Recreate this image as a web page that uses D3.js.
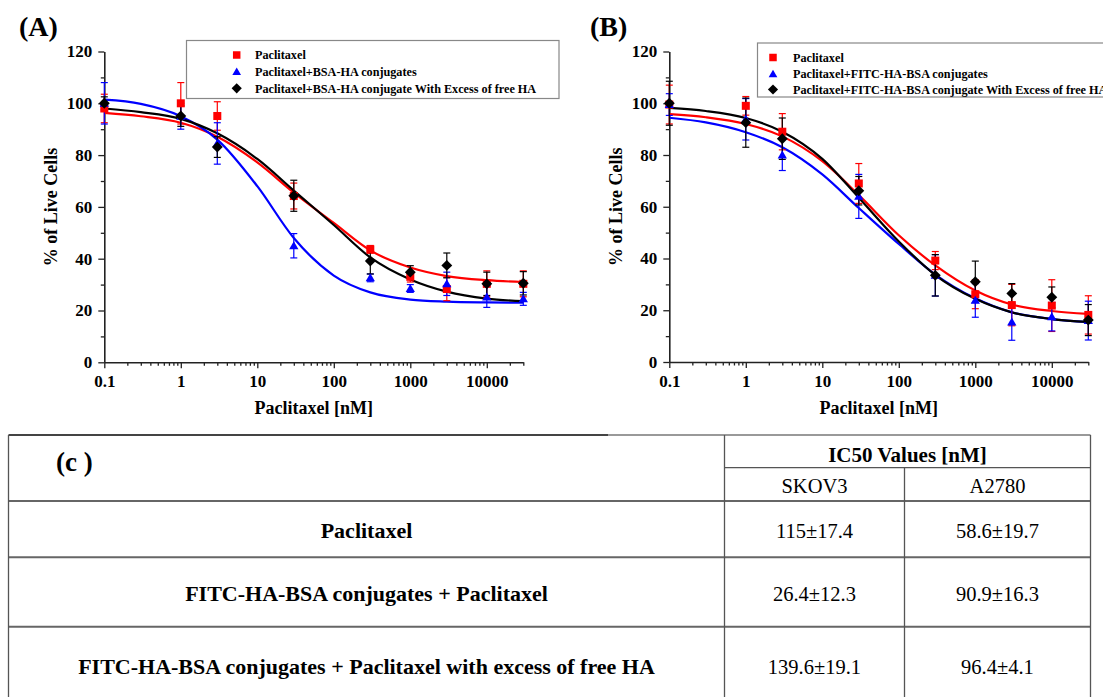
<!DOCTYPE html>
<html>
<head>
<meta charset="utf-8">
<script src="https://cdn.jsdelivr.net/npm/d3@7"></script>
<style>
  body { margin: 0; background: #fff; }
  svg { display: block; font-family: "Liberation Serif", "Times New Roman", serif; }
</style>
</head>
<body>
<svg id="fig" width="1103" height="697"></svg>
<script>
const doses = [0.1, 1, 3, 30, 300, 1000, 3000, 10000, 30000];
const fitDoses = [0.1, 0.3, 1, 3, 10, 30, 100, 300, 1000, 3000, 10000, 30000];
const xTickValues = [0.1, 1, 10, 100, 1000, 10000];
const yTickValues = [0, 20, 40, 60, 80, 100, 120];

// Panel A (% live cells)
const aPacli = [98, 100, 95.1, 64.2, 43.6, 33, 28.3, 30.3, 30.3];
const aPacliErr = [5.5, 8, 5.5, 5, 1.5, 2, 4.5, 5, 5];
const aPacliFit = [96.3, 95.0, 92.5, 87.1, 77.2, 65.5, 53.8, 43.2, 36.6, 33.3, 31.7, 31.0];
const aConj = [100, 95, 84.5, 45, 32.6, 28.5, 30.3, 25.2, 24.5];
const aConjErr = [8, 5, 8, 4.7, 1.5, 1.5, 4.5, 4, 2.5];
const aConjFit = [101.4, 99.8, 95.0, 86.0, 68.0, 48.0, 33.5, 27.0, 24.2, 23.4, 23.1, 23.0];
const aFree = [100, 95.1, 83.1, 64.3, 39.1, 34.8, 37.4, 30.3, 30.5];
const aFreeErr = [2.5, 4, 4, 6, 5, 2.5, 4.8, 4.5, 4.5];
const aFreeFit = [98.0, 96.6, 94.0, 88.4, 78.5, 66.3, 53.0, 40.5, 32.0, 27.3, 24.6, 23.6];
const aLegend = ["Paclitaxel", "Paclitaxel+BSA-HA conjugates",
  "Paclitaxel+BSA-HA conjugate With Excess of free HA"];

// Panel B
const bPacli = [99.5, 99, 89, 69, 39.2, 26.2, 22, 21.8, 18.2];
const bPacliErr = [7.5, 3.6, 7, 7.7, 3.5, 5.6, 8, 10, 7.4];
const bPacliFit = [95.8, 94.6, 92.0, 87.2, 77.6, 64.5, 49.0, 37.3, 27.6, 22.2, 19.7, 18.6];
const bConj = [99.5, 93.8, 80, 64, 33.5, 23.8, 15.4, 17.5, 16];
const bConjErr = [4.2, 8, 6, 8.5, 8, 6.5, 7, 5.5, 7.5];
const bConjFit = [94.4, 92.6, 88.8, 83.0, 72.5, 59.5, 45.6, 33.8, 24.6, 19.2, 16.6, 15.4];
const bFree = [100, 92.5, 86.3, 66.2, 33.5, 31, 26.5, 25, 16.2];
const bFreeErr = [8.5, 9.5, 8, 5.5, 8, 8, 3.8, 4, 6];
const bFreeFit = [98.2, 97.0, 94.3, 89.0, 78.5, 63.5, 46.6, 33.6, 24.4, 19.2, 16.6, 15.5];
const bLegend = ["Paclitaxel", "Paclitaxel+FITC-HA-BSA conjugates",
  "Paclitaxel+FITC-HA-BSA conjugate With Excess of free HA"];

// Table (c)
const tableHeader = "IC50 Values [nM]";
const cellLines = ["SKOV3", "A2780"];
const treatments = ["Paclitaxel", "FITC-HA-BSA conjugates + Paclitaxel",
  "FITC-HA-BSA conjugates + Paclitaxel with excess of free HA"];
const skov3 = ["115±17.4", "26.4±12.3", "139.6±19.1"];
const a2780 = ["58.6±19.7", "90.9±16.3", "96.4±4.1"];

const colors = ["#ff0000", "#0000ff", "#000000"];
const shapes = ["square", "triangle", "diamond"];

const svg = d3.select("#fig");

function marker(sel, shape, size) {
    if (shape === "square") {
        sel.append("rect").attr("x", -size / 2).attr("y", -size / 2)
            .attr("width", size).attr("height", size);
    } else if (shape === "triangle") {
        const h = size * 0.95;
        sel.append("path").attr("d", `M0,${-h * 0.6}L${size * 0.58},${h * 0.45}L${-size * 0.58},${h * 0.45}Z`);
    } else {
        const r = size * 0.68;
        sel.append("path").attr("d", `M0,${-r}L${r},0L0,${r}L${-r},0Z`);
    }
}

function drawPanel(p) {
    const x = d3.scaleLog().domain([0.1, 30000]).range([p.left, p.right]);
    const y = d3.scaleLinear().domain([0, 120]).range([p.bottom, p.top]);
    const g = svg.append("g");

    // panel letter
    g.append("text").attr("x", p.letterX).attr("y", 36)
        .attr("font-size", 28).attr("font-weight", "bold").text(p.letter);

    // minor ticks
    const isMajor = d => Math.abs(Math.log10(d) - Math.round(Math.log10(d))) < 1e-6;
    g.append("g").attr("transform", `translate(0,${p.bottom})`)
        .call(d3.axisBottom(x).tickValues(x.ticks().filter(d => !isMajor(d) && d <= 30000))
            .tickSize(3.5).tickSizeOuter(0).tickFormat(""))
        .call(a => a.select(".domain").remove());
    g.append("g").attr("transform", `translate(${p.left},0)`)
        .call(d3.axisLeft(y).tickValues(d3.range(10, 120, 20)).tickSize(3.5).tickSizeOuter(0).tickFormat(""))
        .call(a => a.select(".domain").remove());

    // major axes
    const xa = g.append("g").attr("transform", `translate(0,${p.bottom})`)
        .call(d3.axisBottom(x).tickValues(xTickValues).tickSize(6).tickPadding(7)
            .tickSizeOuter(0).tickFormat(d => String(d)));
    const ya = g.append("g").attr("transform", `translate(${p.left},0)`)
        .call(d3.axisLeft(y).tickValues(yTickValues).tickSize(6).tickPadding(6).tickSizeOuter(0));
    [xa, ya].forEach(a => {
        a.selectAll("text").attr("font-family", "Liberation Serif").attr("font-size", 17)
            .attr("font-weight", "bold").attr("fill", "#000");
        a.select(".domain").attr("stroke", "#222").attr("stroke-width", 1.6);
    });
    g.selectAll(".tick line").attr("stroke", "#222").attr("stroke-width", 1.3);

    // axis titles
    g.append("text").attr("x", (p.left + p.right) / 2).attr("y", 414)
        .attr("text-anchor", "middle").attr("font-size", 18).attr("font-weight", "bold")
        .text("Paclitaxel [nM]");
    g.append("text").attr("transform", `translate(${p.left - 47},${(p.top + p.bottom) / 2}) rotate(-90)`)
        .attr("text-anchor", "middle").attr("font-size", 18).attr("font-weight", "bold")
        .text("% of Live Cells");

    // series: fitted curve, error bars, markers
    const line = d3.line().x(d => x(d[0])).y(d => y(d[1])).curve(d3.curveMonotoneX);
    p.series.forEach((s, i) => {
        g.append("path").datum(d3.zip(fitDoses, s.fit)).attr("d", line)
            .attr("fill", "none").attr("stroke", colors[i]).attr("stroke-width", 2.2);
    });
    p.series.forEach((s, i) => {
        const pts = doses.map((d, k) => ({ d: d, v: s.values[k], e: s.err[k] }));
        const eb = g.append("g").attr("stroke", colors[i]).attr("stroke-width", 1.2);
        pts.forEach(pt => {
            const cx = x(pt.d), y0 = y(pt.v - pt.e), y1 = y(pt.v + pt.e);
            eb.append("line").attr("x1", cx).attr("x2", cx).attr("y1", y0).attr("y2", y1);
            eb.append("line").attr("x1", cx - 3.5).attr("x2", cx + 3.5).attr("y1", y0).attr("y2", y0);
            eb.append("line").attr("x1", cx - 3.5).attr("x2", cx + 3.5).attr("y1", y1).attr("y2", y1);
        });
    });
    p.series.forEach((s, i) => {
        doses.forEach((d, k) => {
            const m = g.append("g").attr("transform", `translate(${x(d)},${y(s.values[k])})`)
                .attr("fill", colors[i]);
            marker(m, shapes[i], 8);
        });
    });

    // legend
    const lg = g.append("g");
    lg.append("rect").attr("x", p.legend.x).attr("y", p.legend.y)
        .attr("width", p.legend.w).attr("height", p.legend.h)
        .attr("fill", "#fff").attr("stroke", "#888").attr("stroke-width", 1.2);
    p.legendLabels.forEach((t, i) => {
        const ly = p.legend.rows[i];
        const m = lg.append("g").attr("transform", `translate(${p.legend.mx},${ly})`).attr("fill", colors[i]);
        marker(m, shapes[i], 7.5);
        lg.append("text").attr("x", p.legend.tx).attr("y", ly).attr("dy", "0.35em")
            .attr("font-size", 12.2).attr("font-weight", "bold").text(t);
    });
}

drawPanel({
    letter: "(A)", letterX: 19,
    left: 104.3, right: 523.3, top: 51.5, bottom: 362.3,
    series: [
        { values: aPacli, err: aPacliErr, fit: aPacliFit },
        { values: aConj, err: aConjErr, fit: aConjFit },
        { values: aFree, err: aFreeErr, fit: aFreeFit }
    ],
    legendLabels: aLegend,
    legend: { x: 186.5, y: 40.5, w: 372.5, h: 58, mx: 236.7, tx: 255, rows: [55, 71.7, 88.3] }
});

drawPanel({
    letter: "(B)", letterX: 590,
    left: 669.3, right: 1088.3, top: 51.5, bottom: 362,
    series: [
        { values: bPacli, err: bPacliErr, fit: bPacliFit },
        { values: bConj, err: bConjErr, fit: bConjFit },
        { values: bFree, err: bFreeErr, fit: bFreeFit }
    ],
    legendLabels: bLegend,
    legend: { x: 757.5, y: 43, w: 400, h: 54, mx: 773, tx: 793, rows: [57.5, 74, 89.5] }
});

// ---- table (c) ----
const tb = svg.append("g");
const colX = [8.5, 724.5, 904.5, 1090.5];
const rowY = [435, 467.7, 501, 557.3, 626.7, 706];

tb.append("line").attr("x1", colX[0]).attr("x2", 608).attr("y1", rowY[0]).attr("y2", rowY[0])
    .attr("stroke", "#444").attr("stroke-width", 2);
tb.append("line").attr("x1", 608).attr("x2", colX[3]).attr("y1", rowY[0]).attr("y2", rowY[0])
    .attr("stroke", "#777").attr("stroke-width", 1.5);
tb.append("line").attr("x1", colX[1]).attr("x2", colX[3]).attr("y1", rowY[1]).attr("y2", rowY[1])
    .attr("stroke", "#555").attr("stroke-width", 1.3);
[rowY[2], rowY[3], rowY[4]].forEach(yy => {
    tb.append("line").attr("x1", colX[0]).attr("x2", colX[3]).attr("y1", yy).attr("y2", yy)
        .attr("stroke", "#666").attr("stroke-width", 2);
});
[colX[0], colX[1], colX[3]].forEach(xx => {
    tb.append("line").attr("x1", xx).attr("x2", xx).attr("y1", rowY[0]).attr("y2", rowY[5])
        .attr("stroke", "#555").attr("stroke-width", 1.3);
});
tb.append("line").attr("x1", colX[2]).attr("x2", colX[2]).attr("y1", rowY[1]).attr("y2", rowY[5])
    .attr("stroke", "#555").attr("stroke-width", 1.3);

tb.append("text").attr("x", 56).attr("y", 462).attr("dy", "0.35em")
    .attr("font-size", 27).attr("font-weight", "bold").text("(c )");
tb.append("text").attr("x", (colX[1] + colX[3]) / 2).attr("y", 455).attr("dy", "0.35em")
    .attr("text-anchor", "middle").attr("font-size", 21).attr("font-weight", "bold").text(tableHeader);
cellLines.forEach((c, i) => {
    tb.append("text").attr("x", (colX[i + 1] + colX[i + 2]) / 2).attr("y", 486).attr("dy", "0.35em")
        .attr("text-anchor", "middle").attr("font-size", 20.5).text(c);
});
const rowMid = [530.5, 593.5, 666.5];
treatments.forEach((t, i) => {
    tb.append("text").attr("x", (colX[0] + colX[1]) / 2).attr("y", rowMid[i]).attr("dy", "0.35em")
        .attr("text-anchor", "middle").attr("font-size", 22).attr("font-weight", "bold").text(t);
    tb.append("text").attr("x", (colX[1] + colX[2]) / 2).attr("y", rowMid[i]).attr("dy", "0.35em")
        .attr("text-anchor", "middle").attr("font-size", 20.5).text(skov3[i]);
    tb.append("text").attr("x", (colX[2] + colX[3]) / 2).attr("y", rowMid[i]).attr("dy", "0.35em")
        .attr("text-anchor", "middle").attr("font-size", 20.5).text(a2780[i]);
});
</script>
</body>
</html>
